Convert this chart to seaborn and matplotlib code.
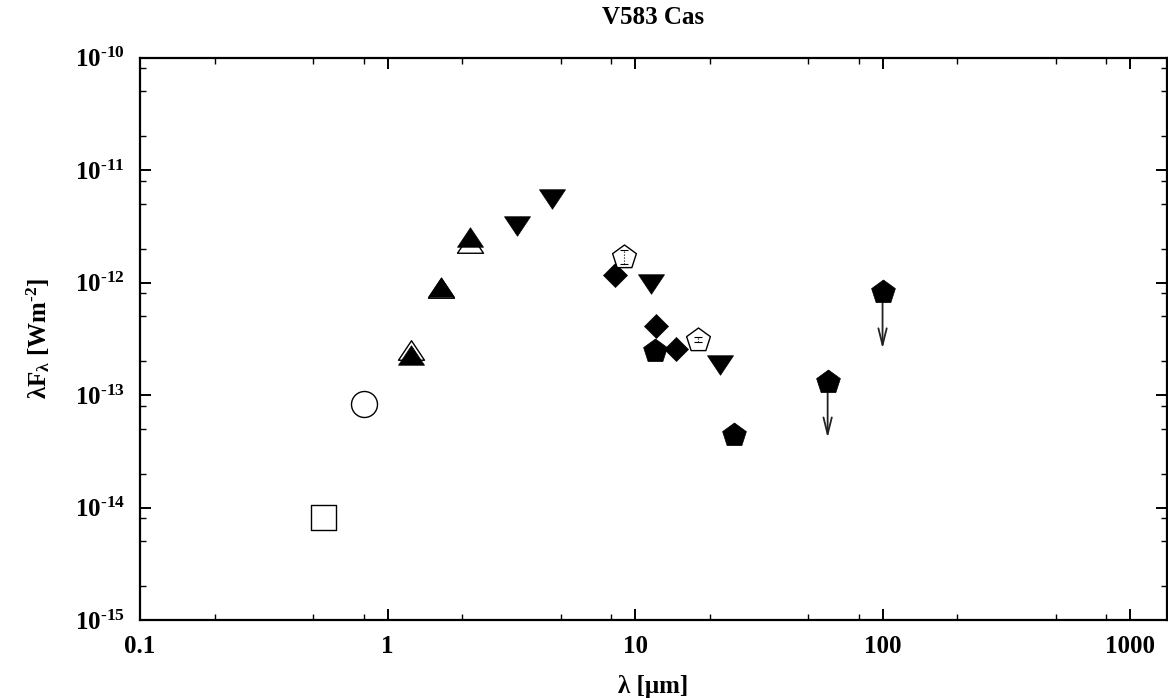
import numpy as np
import matplotlib
matplotlib.use("Agg")
import matplotlib.pyplot as plt
from matplotlib.path import Path
import seaborn as sns

# ---- photometry of V583 Cas (wavelength in micron, lambda*F_lambda in W m^-2) ----
v_wl, v_flux = [0.55], [8.2e-15]                 # optical V
i_wl, i_flux = [0.80], [8.4e-14]                 # optical I
nir_open_wl = [1.24, 1.65, 2.16]
nir_open_flux = [2.52e-13, 9.0e-13, 2.26e-12]
nir_fill_wl = [1.24, 1.65, 2.16]
nir_fill_flux = [2.28e-13, 9.2e-13, 2.55e-12]
wise_wl = [3.35, 4.6, 11.6, 22.1]
wise_flux = [3.2e-12, 5.5e-12, 9.6e-13, 1.86e-13]
msx_wl = [8.28, 12.13, 14.65]
msx_flux = [1.17e-12, 4.07e-13, 2.58e-13]
akari_wl = [9.0, 18.0]
akari_flux = [1.70e-12, 3.1e-13]
akari_err = [2.5e-13, 1.6e-14]
iras_wl = [12.0, 25.0, 60.0, 100.0]
iras_flux = [2.47e-13, 4.43e-14, 1.31e-13, 8.3e-13]
# upper limits (60 and 100 micron) with the tip of their arrows
ul_wl = [60.0, 100.0]
ul_flux = [1.31e-13, 8.3e-13]
ul_tip = [4.16e-14, 2.58e-13]

x_ticks = [0.1, 1, 10, 100, 1000]
x_labels = ["0.1", "1", "10", "100", "1000"]
y_ticks = [1e-15, 1e-14, 1e-13, 1e-12, 1e-11, 1e-10]
y_labels = [r"10$^{\text{-15}}$", r"10$^{\text{-14}}$", r"10$^{\text{-13}}$",
            r"10$^{\text{-12}}$", r"10$^{\text{-11}}$", r"10$^{\text{-10}}$"]

sns.set_theme(style="ticks")
plt.rcParams.update({
    "font.family": ["Liberation Serif", "DejaVu Serif"],
    "font.weight": "bold",
    "mathtext.fontset": "custom",
    "mathtext.default": "rm",
    "mathtext.rm": "Liberation Serif:bold",
    "mathtext.bf": "Liberation Serif:bold",
    "mathtext.it": "Liberation Serif:bold:italic",
    "axes.unicode_minus": False,
    "axes.linewidth": 1.6,
    "text.color": "black",
    "axes.labelcolor": "black",
    "xtick.color": "black",
    "ytick.color": "black",
    "axes.edgecolor": "black",
})

fig = plt.figure(figsize=(11.68, 6.98), dpi=100)
ax = fig.add_axes([140 / 1168, 1 - 620 / 698, (1167 - 140) / 1168, (620 - 57.5) / 698])

# marker shapes
tri_up = Path([(-1, -0.75), (1, -0.75), (0, 0.75), (-1, -0.75)],
              [Path.MOVETO, Path.LINETO, Path.LINETO, Path.CLOSEPOLY])
tri_down = Path([(-1, 0.75), (1, 0.75), (0, -0.75), (-1, 0.75)],
                [Path.MOVETO, Path.LINETO, Path.LINETO, Path.CLOSEPOLY])
diamond = Path([(0, 1), (1, 0), (0, -1), (-1, 0), (0, 1)],
               [Path.MOVETO, Path.LINETO, Path.LINETO, Path.LINETO, Path.CLOSEPOLY])

def pts2(px):
    """marker area (points^2) for a marker spanning px pixels"""
    return (px * 72 / 100) ** 2

open_kw = dict(color="white", edgecolor="black", linewidth=1.0)
fill_kw = dict(color="black", edgecolor="black", linewidth=0.5)

# upper-limit arrows (drawn below the markers)
for x, y0, y1 in zip(ul_wl, ul_flux, ul_tip):
    ax.annotate("", xy=(x, y1), xytext=(x, y0),
                arrowprops=dict(arrowstyle="->,head_length=1.2,head_width=0.3",
                                color="#222222", lw=1.3, shrinkA=0, shrinkB=0,
                                mutation_scale=10),
                zorder=1)

sns.scatterplot(x=v_wl, y=v_flux, marker="s", s=pts2(25), ax=ax, zorder=3, **open_kw)
sns.scatterplot(x=i_wl, y=i_flux, marker="o", s=pts2(26), ax=ax, zorder=3, **open_kw)
sns.scatterplot(x=nir_open_wl, y=nir_open_flux, marker=tri_up, s=pts2(26), ax=ax,
                zorder=3, **open_kw)
sns.scatterplot(x=nir_fill_wl, y=nir_fill_flux, marker=tri_up, s=pts2(26), ax=ax,
                zorder=4, **fill_kw)
sns.scatterplot(x=wise_wl, y=wise_flux, marker=tri_down, s=pts2(26), ax=ax,
                zorder=4, **fill_kw)
sns.scatterplot(x=msx_wl, y=msx_flux, marker=diamond, s=pts2(24), ax=ax,
                zorder=4, **fill_kw)
sns.scatterplot(x=akari_wl, y=akari_flux, marker="p", s=pts2(25), ax=ax,
                zorder=5, **open_kw)
sns.scatterplot(x=iras_wl, y=iras_flux, marker="p", s=pts2(25), ax=ax,
                zorder=4, **fill_kw)

# small dotted error bars inside the open pentagons
eb = ax.errorbar(akari_wl, akari_flux, yerr=akari_err, fmt="none", ecolor="black",
                 elinewidth=0.8, capsize=3, capthick=0.8, zorder=6)
for lc in eb[2]:
    lc.set_linestyle(":")

ax.set_xscale("log")
ax.set_yscale("log")
ax.set_xlim(0.1, 1410)
ax.set_ylim(1e-15, 1e-10)

ax.set_xticks(x_ticks, x_labels)
ax.set_yticks(y_ticks, y_labels)
minor_x = [m * 10.0 ** e for e in range(-1, 4) for m in (2, 5, 8)]
minor_y = [m * 10.0 ** e for e in range(-15, -10) for m in (2, 5, 8)]
ax.set_xticks([v for v in minor_x if v < 1410], minor=True)
ax.set_yticks(minor_y, minor=True)
ax.xaxis.set_minor_formatter(matplotlib.ticker.NullFormatter())
ax.yaxis.set_minor_formatter(matplotlib.ticker.NullFormatter())

ax.tick_params(which="both", direction="in", top=True, right=True, color="black")
ax.tick_params(which="major", length=8, width=1.4, labelsize=18, pad=11)
ax.tick_params(which="minor", length=4, width=1.0)
for lab in ax.get_xticklabels() + ax.get_yticklabels():
    lab.set_fontweight("bold")

for sp in ax.spines.values():
    sp.set_visible(True)
    sp.set_color("black")
    sp.set_linewidth(1.6)

ax.set_xlabel("λ [μm]", fontsize=18, fontweight="bold", labelpad=12)
ax.set_ylabel(r"λF$_{λ}$ [Wm$^{\text{-2}}$]", fontsize=18, fontweight="bold", labelpad=16)
ax.set_title("V583 Cas", fontsize=18, fontweight="bold", pad=24)

fig.savefig("out.png", dpi=100)
